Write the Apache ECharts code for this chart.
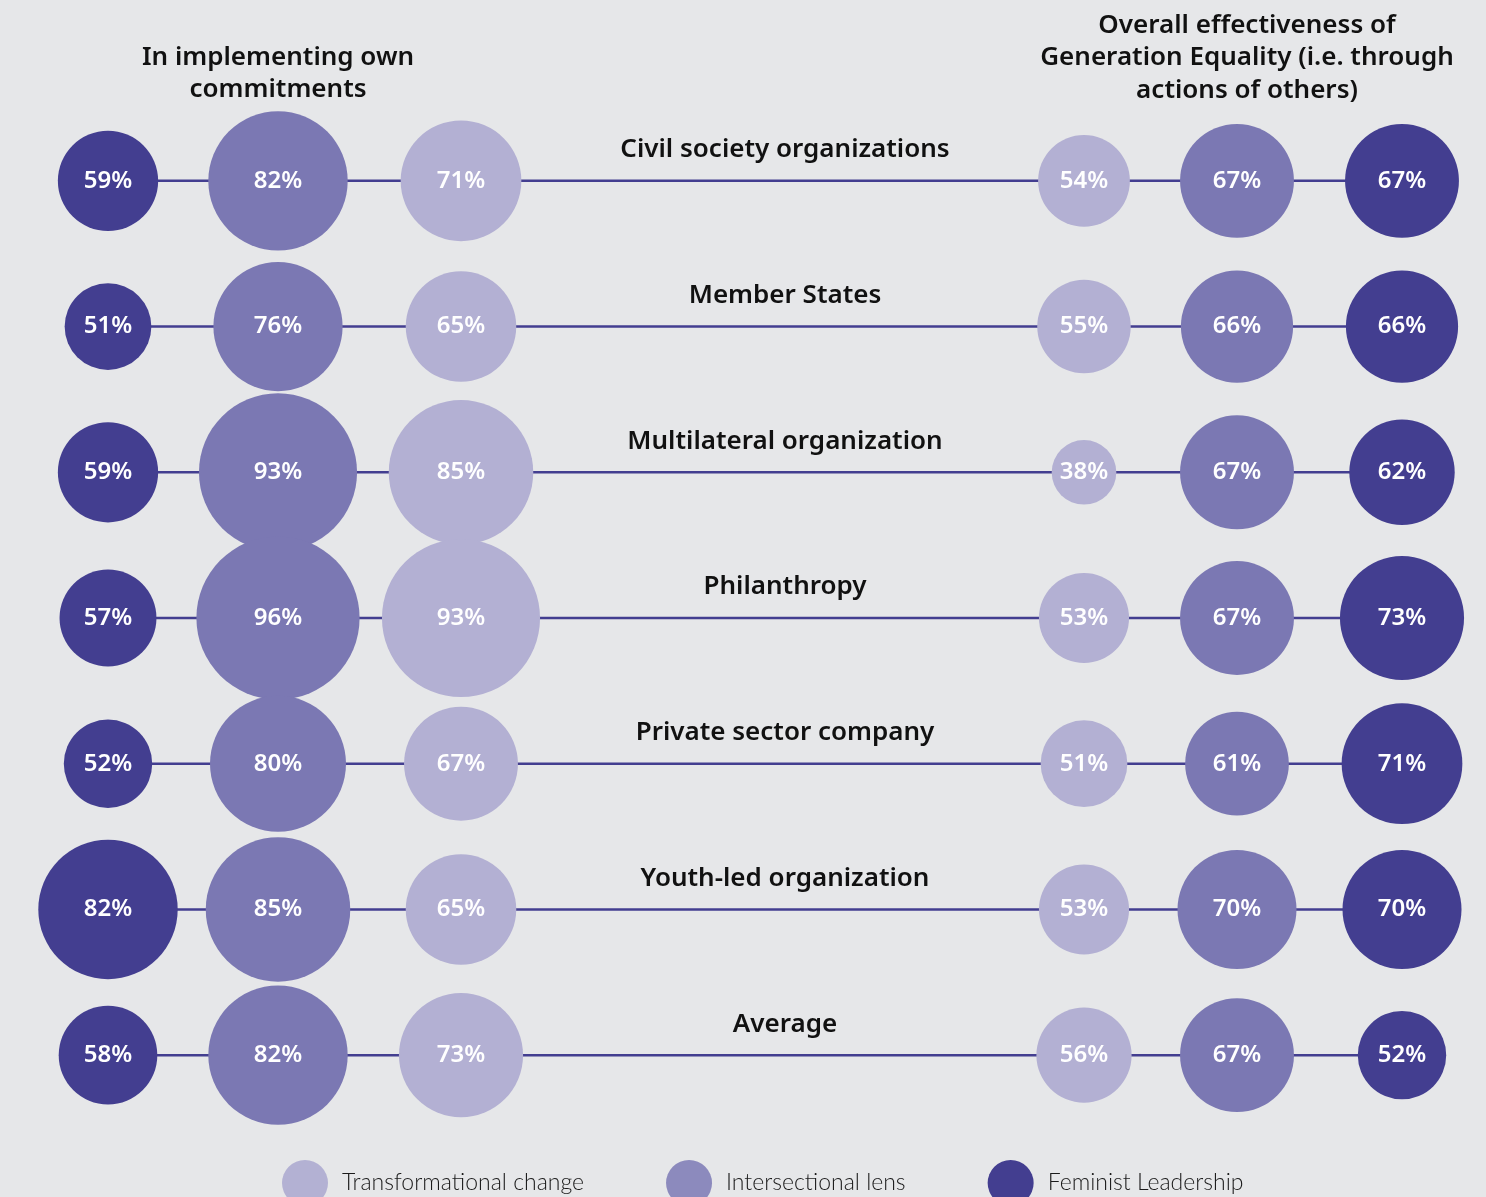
<!DOCTYPE html>
<html>
<head>
<meta charset="utf-8">
<script src="https://cdn.jsdelivr.net/npm/echarts@6/dist/echarts.min.js"></script>
<style>
  html, body { margin: 0; padding: 0; background: #e6e7e9; }
  #chart { width: 1486px; height: 1197px; }
</style>
</head>
<body>
<div id="chart"></div>
<script>
// rows (top to bottom)
const rows = [
  'Civil society organizations',
  'Member States',
  'Multilateral organization',
  'Philanthropy',
  'Private sector company',
  'Youth-led organization',
  'Average'
]

// in implementing own commitments
const ownFeminist = [59, 51, 59, 57, 52, 82, 58]
const ownIntersectional = [82, 76, 93, 96, 80, 85, 82]
const ownTransformational = [71, 65, 85, 93, 67, 65, 73]

// overall effectiveness (through actions of others)
const othersTransformational = [54, 55, 38, 53, 51, 53, 56]
const othersIntersectional = [67, 66, 67, 67, 61, 70, 67]
const othersFeminist = [67, 66, 62, 73, 71, 70, 52]

const legendNames = ['Transformational change', 'Intersectional lens', 'Feminist Leadership']

// layout
const colX = { ownF: 108, ownI: 278, ownT: 461, othT: 1084, othI: 1237, othF: 1402 }
const labelX = 785
const sizeScale = 1.7
const colors = { dark: '#433e90', mid: '#7b78b3', light: '#b3b0d3' }
const legendColors = ['#b3b1d3', '#8c8abd', '#433e90']
const bg = '#e6e7e9'
const headFont = '"Noto Sans", Lato, sans-serif'
const thinFont = 'Lato, "Noto Sans", sans-serif'

const chart = echarts.init(document.getElementById('chart'), null, { renderer: 'canvas' })

const toPoints = (vals, x) => vals.map((v, i) => [x, rows[i], v])

const bubbleSeries = (name, color, data) => ({
  name,
  type: 'scatter',
  z: 3,
  data,
  symbol: 'circle',
  symbolSize: v => v[2] * sizeScale,
  itemStyle: { color, opacity: 1 },
  label: {
    show: true,
    position: 'inside',
    formatter: p => p.value[2] + '%',
    color: '#fff',
    fontFamily: headFont,
    fontWeight: 600,
    fontSize: 24
  }
})

const lineSeries = rows.map(r => ({
  type: 'line',
  z: 1,
  symbol: 'none',
  data: [[colX.ownF, r], [colX.othF, r]],
  lineStyle: { color: colors.dark, width: 2.5 }
}))

const option = {
  backgroundColor: bg,
  animation: false,
  grid: { left: 0, right: 0, top: 108, bottom: 69 },
  xAxis: { type: 'value', min: 0, max: 1486, show: false },
  yAxis: { type: 'category', data: rows, inverse: true, show: false },
  legend: {
    data: legendNames.map((n, i) => ({ name: n, itemStyle: { color: legendColors[i] } })),
    left: 282,
    top: 1160,
    padding: 0,
    icon: 'circle',
    itemWidth: 46,
    itemHeight: 46,
    itemGap: 82,
    selectedMode: false,
    textStyle: { fontFamily: thinFont, fontWeight: 300, fontSize: 23, color: '#1a1a1a', padding: [0, 0, 0, 9] }
  },
  graphic: [
    {
      type: 'text',
      x: 278,
      y: 42,
      style: {
        text: 'In implementing own\ncommitments',
        align: 'center',
        verticalAlign: 'top',
        fontFamily: headFont,
        fontWeight: 600,
        fontSize: 26,
        lineHeight: 32,
        fill: '#111'
      }
    },
    {
      type: 'text',
      x: 1247,
      y: 9,
      style: {
        text: 'Overall effectiveness of\nGeneration Equality (i.e. through\nactions of others)',
        align: 'center',
        verticalAlign: 'top',
        fontFamily: headFont,
        fontWeight: 600,
        fontSize: 26,
        lineHeight: 32.5,
        fill: '#111'
      }
    }
  ],
  series: [
    ...lineSeries,
    bubbleSeries(legendNames[2], colors.dark, toPoints(ownFeminist, colX.ownF).concat(toPoints(othersFeminist, colX.othF))),
    bubbleSeries(legendNames[1], colors.mid, toPoints(ownIntersectional, colX.ownI).concat(toPoints(othersIntersectional, colX.othI))),
    bubbleSeries(legendNames[0], colors.light, toPoints(ownTransformational, colX.ownT).concat(toPoints(othersTransformational, colX.othT))),
    {
      type: 'scatter',
      z: 4,
      data: rows.map(r => [labelX, r]),
      symbolSize: 0,
      itemStyle: { color: bg, opacity: 1 },
      label: {
        show: true,
        position: 'inside',
        offset: [0, -31],
        formatter: p => p.value[1],
        color: '#111',
        fontFamily: headFont,
        fontWeight: 600,
        fontSize: 26
      }
    }
  ]
}

chart.setOption(option)
window.addEventListener('resize', () => chart.resize())
</script>
</body>
</html>
